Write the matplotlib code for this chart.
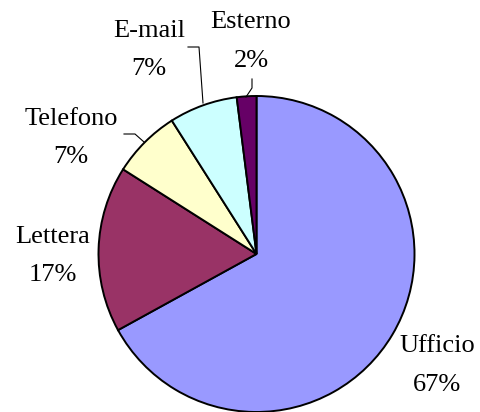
import matplotlib
matplotlib.use("Agg")
import matplotlib.pyplot as plt

categories = ["Ufficio", "Lettera", "Telefono", "E-mail", "Esterno"]
values = [67, 17, 7, 7, 2]
colors = ["#9999FF", "#993366", "#FFFFCC", "#CCFFFF", "#660066"]

W, H = 480, 412
fig = plt.figure(figsize=(W / 100, H / 100), dpi=100)
ax = fig.add_axes([0, 0, 1, 1])
ax.set_xlim(0, W)
ax.set_ylim(0, H)
ax.set_aspect("equal")
ax.axis("off")

cx, cy, r = 256.5, H - 254, 158
ax.pie(values, colors=colors, startangle=90, counterclock=False,
       center=(cx, cy), radius=r,
       wedgeprops=dict(edgecolor="black", linewidth=1.4))
ax.set_xlim(0, W)
ax.set_ylim(0, H)

# label layout in pixel coords (x center, name baseline, pct baseline)
label_pos = {
    "Ufficio": (437, 352, 391),
    "Lettera": (53, 243, 281),
    "Telefono": (71, 125, 163),
    "E-mail": (149, 37, 75),
    "Esterno": (251, 28, 67),
}
font = dict(family="Liberation Serif", size=19, color="black")
for name, v in zip(categories, values):
    x, yb1, yb2 = label_pos[name]
    ax.text(x, H - yb1, name, ha="center", va="baseline", **font)
    ax.text(x, H - yb2, f"{v}%", ha="center", va="baseline", **font)

leaders = [
    [(124, 134), (135, 134), (144, 142)],
    [(188, 47), (199, 47), (203, 103)],
    [(252, 79), (252, 88), (246, 97)],
]
for pts in leaders:
    xs = [p[0] for p in pts]
    ys = [H - p[1] for p in pts]
    ax.plot(xs, ys, color="black", linewidth=0.8)

fig.savefig("out.png", dpi=100)
